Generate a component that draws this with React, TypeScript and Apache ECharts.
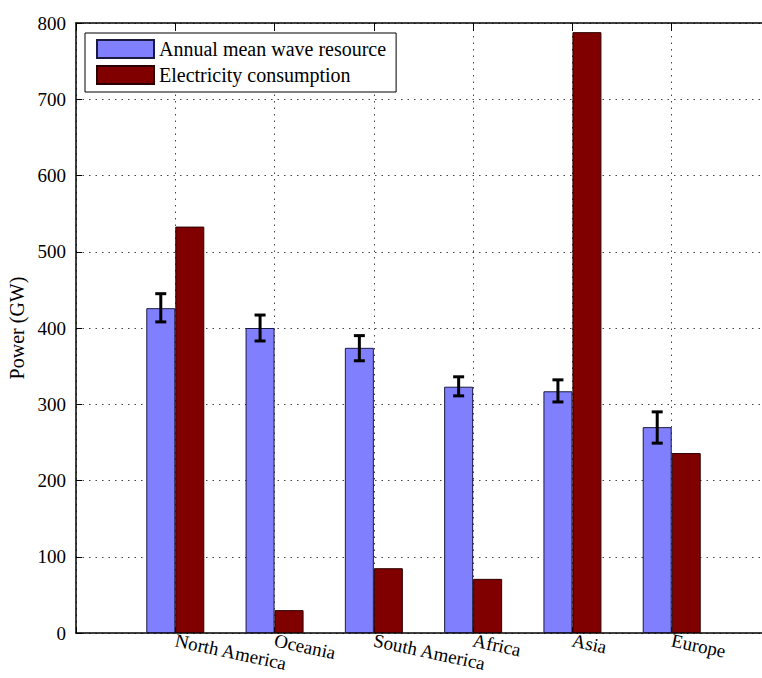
import React, { useEffect, useRef } from "react";
import * as echarts from "echarts";

const categories = ["North America", "Oceania", "South America", "Africa", "Asia", "Europe"];
const waveResource = [426, 400, 374, 323, 317, 270];
const waveLow = [408, 383, 357, 311, 303, 249];
const waveHigh = [445, 417, 390, 336, 332, 290];
const consumption = [533, 30, 85, 71, 788, 236];
const seriesNames = ["Annual mean wave resource", "Electricity consumption"];

const FONT = "Liberation Serif";
const BAR_W = 29;

export default function App() {
  const ref = useRef<HTMLDivElement>(null);
  useEffect(() => {
    if (!ref.current) return;
    const chart = echarts.init(ref.current, undefined, { renderer: "svg" });
    const pos = (i: number) => i + 1;
    const dotted = { show: true, lineStyle: { color: "#444", type: [1.5, 5], width: 1 } };
    chart.setOption({
      animation: false,
      backgroundColor: "#fff",
      textStyle: { fontFamily: FONT, color: "#000" },
      grid: { left: 76, right: 0, top: 23, bottom: 45, outerBoundsMode: "none", containLabel: false },
      legend: {
        data: seriesNames,
        orient: "vertical",
        left: 85,
        top: 33,
        padding: [6, 10, 7, 11],
        itemGap: 6,
        itemWidth: 57,
        itemHeight: 18,
        icon: "rect",
        backgroundColor: "#fff",
        borderColor: "#000",
        borderWidth: 1,
        textStyle: { fontFamily: FONT, fontSize: 20, color: "#000", lineHeight: 18 },
        z: 10,
      },
      xAxis: [
        {
          type: "value",
          min: 0,
          max: 7,
          interval: 1,
          axisLine: { show: true, lineStyle: { color: "#000", width: 1.5 } },
          axisTick: { show: true, inside: true, length: 6, lineStyle: { color: "#000" } },
          axisLabel: {
            rotate: -12,
            margin: 7,
            fontSize: 19,
            lineHeight: 19,
            fontFamily: FONT,
            color: "#000",
            formatter: (v: number) => (Number.isInteger(v) && v >= 1 && v <= categories.length ? categories[v - 1] : ""),
          },
          splitLine: dotted,
        },
        {
          type: "value",
          position: "top",
          min: 0,
          max: 7,
          interval: 1,
          axisLine: { show: true, lineStyle: { color: "#000", width: 1.5 } },
          axisTick: { show: true, inside: true, length: 8, lineStyle: { color: "#000" } },
          axisLabel: { show: false },
          splitLine: { show: false },
        },
      ],
      yAxis: {
        type: "value",
        min: 0,
        max: 800,
        interval: 100,
        name: "Power (GW)",
        nameLocation: "middle",
        nameGap: 46,
        nameTextStyle: { fontFamily: FONT, fontSize: 20, color: "#000" },
        axisLine: { show: true, lineStyle: { color: "#000", width: 1.5 } },
        axisTick: { show: true, inside: true, length: 6, lineStyle: { color: "#000" } },
        axisLabel: { fontSize: 19, fontFamily: FONT, color: "#000", margin: 10 },
        splitLine: dotted,
      },
      series: [
        {
          name: seriesNames[0],
          type: "bar",
          barWidth: BAR_W,
          barGap: "0%",
          data: waveResource.map((v, i) => [pos(i), v]),
          itemStyle: { color: "#8080ff", borderColor: "#1a1a40", borderWidth: 1 },
        },
        {
          name: seriesNames[1],
          type: "bar",
          barWidth: BAR_W,
          barGap: "0%",
          data: consumption.map((v, i) => [pos(i), v]),
          itemStyle: { color: "#800000", borderColor: "#2a0000", borderWidth: 1 },
        },
        {
          name: "error",
          type: "custom",
          z: 5,
          encode: { x: 0, y: [1, 2] },
          data: waveLow.map((lo, i) => [pos(i), lo, waveHigh[i]]),
          renderItem: (_p: any, api: any) => {
            const x = api.value(0);
            const lo = api.coord([x, api.value(1)]);
            const hi = api.coord([x, api.value(2)]);
            const cx = lo[0] - BAR_W / 2;
            const half = 5.5;
            const st = { stroke: "#000", lineWidth: 3 };
            return {
              type: "group",
              children: [
                { type: "line", shape: { x1: cx, y1: lo[1], x2: cx, y2: hi[1] }, style: st },
                { type: "line", shape: { x1: cx - half, y1: lo[1], x2: cx + half, y2: lo[1] }, style: st },
                { type: "line", shape: { x1: cx - half, y1: hi[1], x2: cx + half, y2: hi[1] }, style: st },
              ],
            };
          },
        },
      ],
    });
    return () => chart.dispose();
  }, []);
  return (
    <div style={{ position: "fixed", left: 0, top: 0, width: 762, height: 678, overflow: "hidden", background: "#fff" }}>
      <div ref={ref} style={{ width: 771, height: 678 }} />
    </div>
  );
}
